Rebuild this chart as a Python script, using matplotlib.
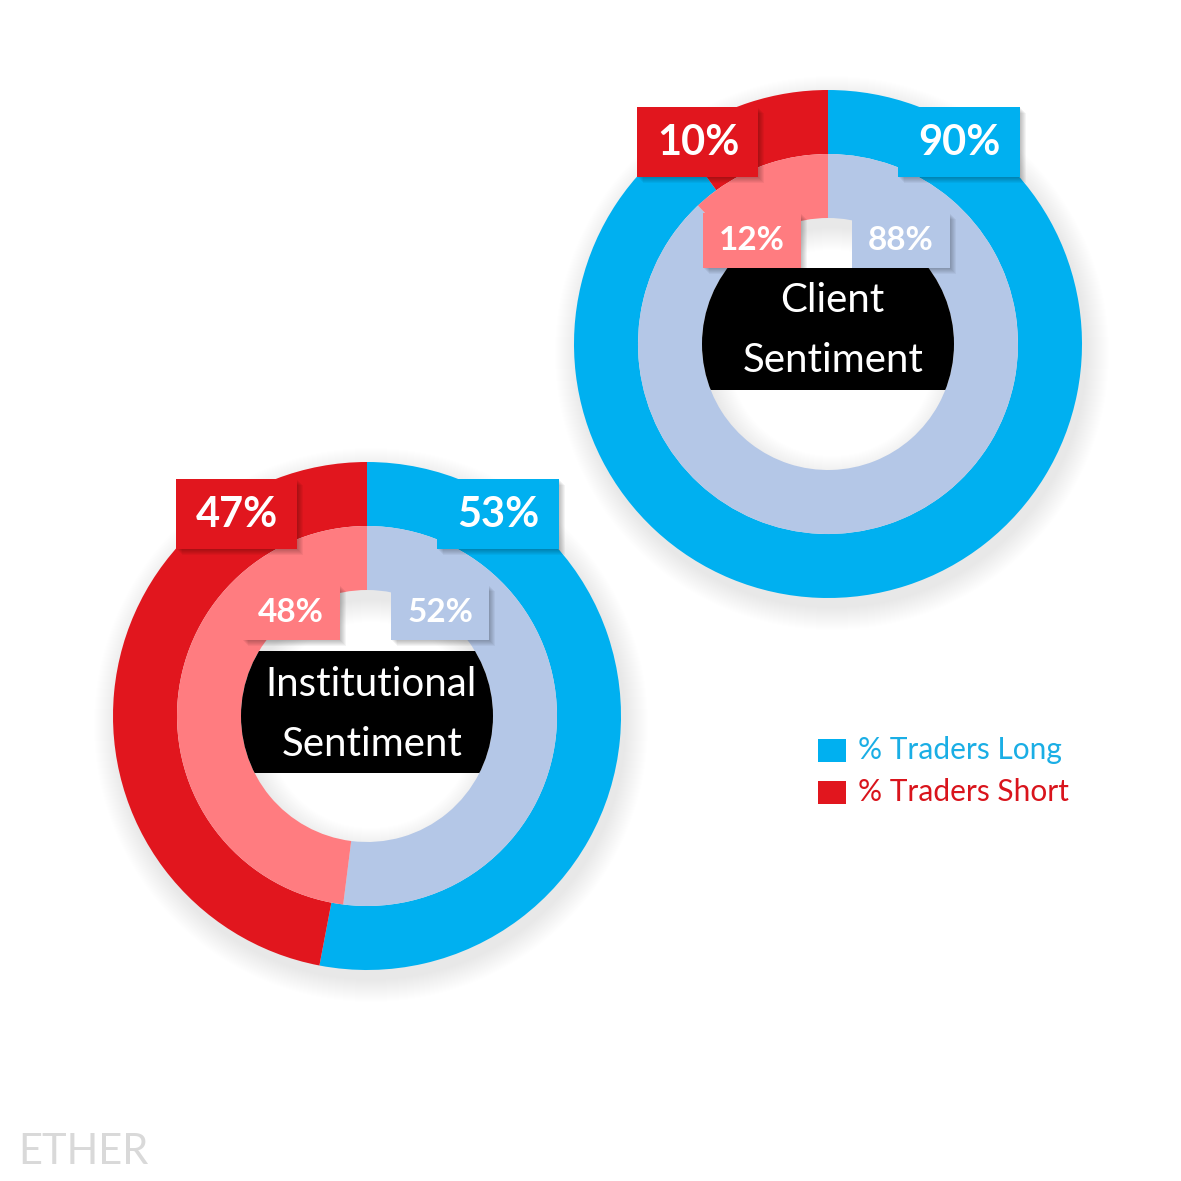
import numpy as np
import matplotlib.pyplot as plt
from matplotlib.patches import Rectangle, Circle, Wedge

plt.rcParams['font.family'] = ['Lato', 'DejaVu Sans']

# data
groups = ['Client', 'Institutional']
long_now = [90, 53]
short_now = [10, 47]
long_prev = [88, 52]
short_prev = [12, 48]
legend_labels = ['% Traders Long', '% Traders Short']
watermark = 'ETHER'

BLUE = '#00B0F0'
RED = '#E1161E'
PALE_BLUE = '#B4C7E7'
PALE_RED = '#FF7C80'

W = H = 1181
fig = plt.figure(figsize=(11.81, 11.81), dpi=100)
ax = fig.add_axes([0, 0, 1, 1])

centers = [(828, 344), (367, 716)]
text_mid = [-13, -2]   # vertical offset of the two-line centre caption
R_out, R_mid, R_hole = 254, 190, 126


def box(x0, y0, w, h, color, z):
    # drop shadow, then the box itself
    for k in range(1, 7):
        ax.add_patch(Rectangle((x0 + k, y0 + k), w, h, color='black',
                               alpha=0.045, lw=0, zorder=z - 0.1))
    ax.add_patch(Rectangle((x0, y0), w, h, color=color, lw=0, zorder=z))


for i, name in enumerate(groups):
    cx, cy = centers[i]

    # soft shadow of the rings
    for s in range(1, 24):
        ax.add_patch(Wedge((cx + 4, cy + 9), R_out + s, 0, 360,
                           width=R_out - R_hole + 2 * s,
                           color='black', alpha=0.0045, lw=0, zorder=1))

    # y axis is inverted, so startangle -90 + counterclock -> top, clockwise
    ax.pie([long_now[i], short_now[i]], radius=R_out, center=(cx, cy),
           colors=[BLUE, RED], startangle=-90, counterclock=True, frame=True,
           wedgeprops=dict(width=R_out - R_mid, lw=0, zorder=2))
    ax.pie([long_prev[i], short_prev[i]], radius=R_mid, center=(cx, cy),
           colors=[PALE_BLUE, PALE_RED], startangle=-90, counterclock=True,
           frame=True, wedgeprops=dict(width=R_mid - R_hole, lw=0, zorder=2))

    # black caption band clipped to the hole
    hole = Circle((cx, cy), R_hole, transform=ax.transData)
    band = Rectangle((cx - R_hole, cy + text_mid[i] - 2 - 61), 2 * R_hole, 122,
                     color='black', lw=0, zorder=3)
    band.set_clip_path(hole)
    ax.add_patch(band)
    ax.text(cx + 4, cy + text_mid[i] - 30, name, color='white', fontsize=29,
            ha='center', va='center', zorder=4)
    ax.text(cx + 5, cy + text_mid[i] + 30, 'Sentiment', color='white',
            fontsize=29, ha='center', va='center', zorder=4)

    # value boxes, outer ring
    box(cx - 191, cy - 237, 121, 70, RED, 6)
    box(cx + 70, cy - 237, 122, 70, BLUE, 6)
    ax.text(cx - 130, cy - 201, f'{short_now[i]}%', color='white',
            fontsize=30, fontweight='bold', ha='center', va='center', zorder=7)
    ax.text(cx + 131, cy - 201, f'{long_now[i]}%', color='white',
            fontsize=30, fontweight='bold', ha='center', va='center', zorder=7)

    # value boxes, inner ring
    box(cx - 125, cy - 131, 98, 55, PALE_RED, 5)
    box(cx + 24, cy - 131, 98, 55, PALE_BLUE, 5)
    ax.text(cx - 76, cy - 103, f'{short_prev[i]}%', color='white',
            fontsize=24, fontweight='bold', ha='center', va='center', zorder=7)
    ax.text(cx + 73, cy - 103, f'{long_prev[i]}%', color='white',
            fontsize=24, fontweight='bold', ha='center', va='center', zorder=7)

# legend
for j, (lab, col, tcol) in enumerate(zip(legend_labels, [BLUE, RED],
                                         ['#1AAEE5', '#D9141C'])):
    y = 739 + j * 42
    ax.add_patch(Rectangle((818, y), 28, 23, color=col, lw=0, zorder=3))
    ax.text(858, y + 11, lab, color=tcol, fontsize=21.5, ha='left',
            va='center', zorder=3)

ax.text(18, 1152, watermark, color='#D9D9D9', fontsize=30, ha='left',
        va='center')

ax.set_xlim(0, W)
ax.set_ylim(H, 0)
ax.set_axis_off()
fig.savefig('out.png', dpi=100, facecolor='white')
